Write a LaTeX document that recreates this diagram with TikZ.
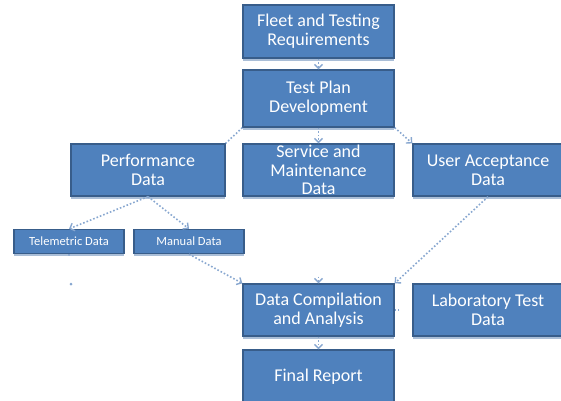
\documentclass[tikz,border=0pt]{standalone}
\usepackage{fontspec}
\setmainfont{Carlito}
\usetikzlibrary{arrows.meta,shadows}
\definecolor{boxfill}{RGB}{79,129,189}
\definecolor{boxline}{RGB}{56,93,138}
\definecolor{conncol}{RGB}{136,167,208}
\definecolor{shadcol}{RGB}{170,190,215}
\begin{document}
\begin{tikzpicture}[x=1pt,y=-1pt,
  box/.style={draw=boxline, line width=1.3pt, fill=boxfill, text=white,
    align=center, inner sep=0pt,
    font=\fontsize{18}{18.7}\selectfont,
    drop shadow={shadow xshift=0pt, shadow yshift=-2.5pt, fill=shadcol, opacity=1}},
  smallbox/.style={box, font=\fontsize{12.5}{13}\selectfont},
  conn/.style={draw=conncol, line width=1.6pt, dash pattern=on 1.6pt off 2pt,
    -{Straight Barb[length=4pt,width=8pt,line width=1.4pt]}},
  connn/.style={draw=conncol, line width=1.6pt, dash pattern=on 1.6pt off 2pt}]
\useasboundingbox (0,0) rectangle (561,400);
\node[box, minimum width=151pt, minimum height=53pt] (fleet) at (318.5,31.5) {Fleet and Testing\\Requirements};
\node[box, minimum width=151pt, minimum height=57pt] (plan) at (318.5,98.5) {Test Plan\\Development};
\node[box, minimum width=154pt, minimum height=52pt] (perf) at (148,170) {Performance\\Data};
\node[box, minimum width=151pt, minimum height=52pt] (serv) at (318.5,170) {Service and\\Maintenance\\Data};
\node[box, minimum width=150pt, minimum height=52pt] (user) at (488,170) {User Acceptance\\Data};
\node[smallbox, minimum width=110pt, minimum height=24pt] (tele) at (69,241.5) {Telemetric Data};
\node[smallbox, minimum width=110pt, minimum height=24pt] (manual) at (189,241.5) {Manual Data};
\node[box, minimum width=151pt, minimum height=52pt] (comp) at (318.5,310) {Data Compilation\\and Analysis};
\node[box, minimum width=150pt, minimum height=52pt] (lab) at (488,310) {Laboratory Test\\Data};
\node[box, minimum width=151pt, minimum height=54pt] (final) at (318.5,377) {Final Report};
\coordinate (tdot) at (71,284);
% connectors
\draw[conn] (fleet.south) -- (plan.north);
\draw[connn] (plan.south west) -- (perf.north east);
\draw[conn] (plan.south) -- (serv.north);
\draw[conn] (plan.south east) -- (user.north west);
\draw[conn] (perf.south) -- (tele.north);
\draw[conn] (perf.south) -- (manual.north);
\draw[conn] (manual.south) -- (comp.north west);
\draw[conn] (user.south) -- (comp.north east);
\draw[conn, shorten <=80pt] (serv.south) -- (comp.north);
\draw[connn, shorten <=13pt] (lab.west) -- (comp.east);
\draw[connn, dash pattern=on 1.6pt off 28pt] (tele.south) -- (tdot);
\fill[conncol] (tdot) circle (1.5pt);
\draw[conn] (comp.south) -- (final.north);
\end{tikzpicture}
\end{document}
